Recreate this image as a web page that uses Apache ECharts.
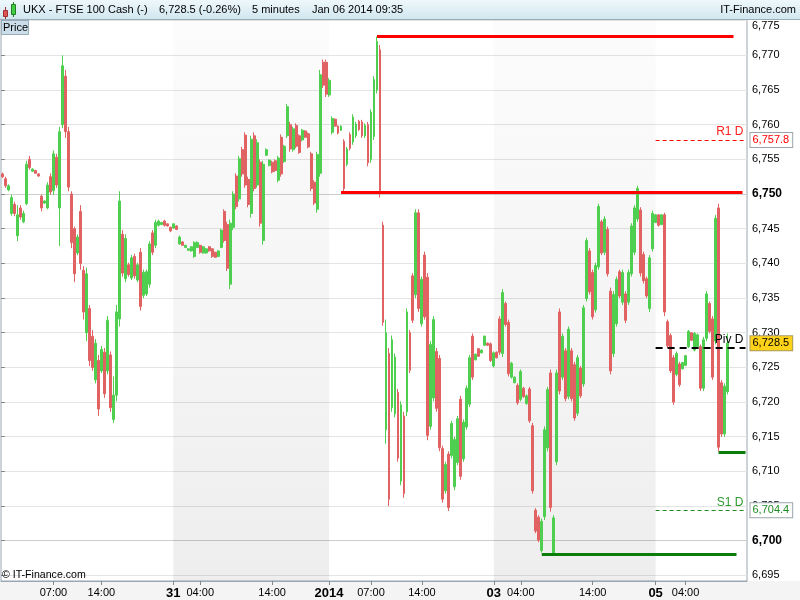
<!DOCTYPE html>
<html><head><meta charset="utf-8">
<script src="https://cdn.jsdelivr.net/npm/echarts@6/dist/echarts.min.js"></script>
<style>html,body{margin:0;padding:0;background:#fff}#c{width:800px;height:600px}</style>
</head><body><div id="c"></div>
<script>
// each bar: [open, close, low, high]
const dec30 = [
[6752.9,6752.5,6752.3,6753.1],[6752.2,6751.2,6750.9,6752.5],[6750.6,6751.2,6750.4,6751.4],[6747.2,6749.5,6746.9,6749.9],
[6748.5,6747.2,6746.8,6748.9],[6744.0,6747.0,6743.2,6748.4],[6748.0,6746.7,6746.3,6748.4],[6746.0,6747.2,6745.8,6747.6],
[6748.6,6754.3,6748.4,6754.8],[6755.0,6753.8,6753.5,6755.5],[6753.3,6753.6,6753.2,6753.7],[6753.4,6753.0,6752.9,6753.5],
[6752.9,6752.6,6752.5,6753.0],[6749.7,6748.0,6747.5,6749.9],[6748.7,6749.0,6748.6,6749.1],[6748.0,6751.3,6747.8,6751.7],
[6752.5,6750.3,6749.9,6753.0],[6750.5,6755.8,6749.9,6756.3],[6755.3,6751.3,6750.9,6755.8],[6748.0,6759.0,6742.5,6759.7],
[6760.0,6768.5,6759.5,6770.0],[6767.0,6759.0,6758.1,6767.9],[6759.0,6751.0,6750.4,6759.7],[6750.0,6743.0,6742.2,6750.4],
[6745.0,6738.5,6737.3,6745.3],[6741.5,6743.8,6741.2,6744.2],[6747.5,6740.0,6739.1,6748.4],[6739.0,6733.0,6731.9,6739.6],
[6730.0,6738.5,6728.8,6739.4],[6733.5,6726.0,6725.2,6734.0],[6729.5,6725.0,6724.5,6730.4],[6723.2,6728.5,6722.7,6729.1],
[6726.0,6719.0,6718.0,6726.8],[6724.5,6727.6,6724.2,6728.1],[6727.2,6721.2,6720.6,6727.8],[6724.5,6731.8,6724.0,6732.4],
[6726.8,6719.2,6718.6,6727.3],[6717.5,6721.0,6717.0,6723.7],[6721.0,6733.0,6720.1,6734.0],[6732.0,6749.0,6730.9,6750.4],
[6744.2,6738.6,6738.1,6744.8],[6737.8,6743.6,6737.3,6744.2],[6739.8,6738.4,6738.1,6740.1],[6737.9,6740.8,6737.6,6741.2],
[6741.0,6738.2,6737.8,6741.4],[6737.6,6739.8,6737.3,6740.1],[6741.6,6733.8,6733.2,6742.2],[6735.4,6738.7,6735.0,6739.1],
[6735.6,6738.8,6735.3,6739.1],[6737.0,6742.8,6736.5,6743.2],[6744.4,6741.6,6741.2,6744.8],[6742.6,6745.9,6742.2,6746.3],
[6745.5,6746.1,6745.3,6746.3],[6745.6,6745.9,6745.5,6746.0],[6746.1,6745.5,6745.3,6746.3],[6745.7,6745.4,6745.3,6745.8],
[6745.2,6744.7,6744.5,6745.3]
];
const dec31 = [
[6745.1,6745.7,6745.0,6745.8],[6745.4,6744.9,6744.8,6745.5],[6742.8,6743.8,6742.7,6744.0],[6743.1,6742.6,6742.5,6743.2],
[6742.3,6742.6,6742.2,6742.7],[6741.9,6742.1,6741.8,6742.2],[6741.8,6742.4,6741.7,6742.5],[6741.0,6743.0,6740.8,6743.2],
[6742.3,6743.0,6742.2,6743.2],[6742.6,6741.6,6741.4,6742.7],[6741.5,6742.4,6741.4,6742.5],[6741.5,6742.1,6741.4,6742.2],
[6742.4,6741.8,6741.7,6742.5],[6742.1,6741.0,6740.8,6742.2],[6741.6,6740.9,6740.8,6741.7],[6741.0,6741.8,6740.9,6741.9],
[6742.3,6744.8,6742.2,6745.0],[6747.5,6743.3,6743.0,6747.8],[6745.6,6739.3,6738.9,6746.0],[6737.0,6745.8,6736.3,6746.3],
[6745.2,6750.0,6744.8,6750.4],[6752.6,6748.2,6747.8,6753.0],[6749.3,6755.1,6748.9,6755.5],[6756.4,6752.9,6752.5,6756.8],
[6758.5,6751.3,6750.9,6758.9],[6752.1,6748.5,6748.1,6752.5],[6747.2,6757.9,6746.6,6758.4],[6758.4,6750.8,6750.4,6758.9],
[6751.3,6757.4,6750.9,6757.9],[6754.6,6745.8,6745.3,6755.0],[6743.3,6754.3,6742.7,6754.8],[6755.6,6756.4,6755.5,6756.6],
[6754.1,6754.9,6754.0,6755.0],[6754.6,6753.2,6753.0,6754.8],[6754.8,6753.4,6753.2,6755.0],[6752.0,6755.2,6751.7,6755.5],
[6758.2,6752.9,6752.5,6758.6],[6754.7,6756.9,6754.5,6757.1],[6758.4,6762.6,6758.1,6763.0],[6760.0,6756.5,6756.1,6760.4],
[6756.4,6759.4,6756.1,6759.7],[6759.9,6756.9,6756.6,6760.2],[6758.4,6756.0,6755.8,6758.6],[6757.8,6759.2,6757.6,6759.4],
[6759.1,6758.2,6758.1,6759.2],[6758.7,6756.8,6756.6,6758.9],[6755.8,6750.8,6750.4,6756.1],[6751.7,6748.7,6748.4,6752.0],
[6747.8,6755.7,6747.3,6756.1],[6753.0,6767.2,6752.5,6767.9],[6769.0,6765.7,6765.3,6769.4],[6769.0,6764.4,6764.0,6769.4],
[6764.3,6766.4,6764.0,6766.7]
];
const jan02 = [
[6758.9,6760.9,6758.6,6761.2],[6760.8,6759.8,6759.7,6760.9],[6759.8,6758.8,6758.6,6759.9],[6759.2,6759.8,6759.1,6759.9],
[6757.6,6750.8,6750.4,6757.9],[6754.3,6756.5,6754.0,6756.8],[6758.6,6756.6,6756.3,6758.9],[6757.5,6761.1,6757.1,6761.5],
[6758.4,6760.1,6758.1,6760.4],[6760.5,6759.3,6759.1,6760.7],[6760.4,6758.4,6758.1,6760.7],[6758.4,6759.9,6758.1,6760.2],
[6760.0,6754.5,6754.0,6760.4],[6755.0,6761.8,6754.5,6762.2],[6758.3,6766.5,6757.8,6767.0],[6765.0,6772.0,6764.5,6772.7],
[6770.8,6750.5,6749.5,6771.5],[6745.5,6731.5,6731.0,6746.0],[6716.0,6730.0,6714.0,6731.9],[6727.0,6706.0,6705.0,6727.8],
[6719.2,6729.0,6718.6,6729.6],[6718.3,6726.5,6717.8,6727.0],[6721.4,6711.9,6711.4,6721.9],[6708.6,6719.6,6708.0,6720.1],
[6718.0,6706.8,6706.2,6718.6],[6718.6,6733.0,6718.0,6733.5],[6730.0,6724.6,6724.2,6730.4],[6738.2,6731.8,6731.4,6738.6],
[6735.5,6747.3,6735.0,6747.8],[6747.3,6733.5,6733.0,6747.8],[6731.3,6737.7,6730.9,6738.1],[6741.2,6732.3,6731.9,6741.7],
[6738.0,6715.2,6714.5,6738.6],[6716.5,6728.3,6716.0,6728.8],[6720.6,6731.9,6720.1,6732.4],[6727.3,6719.1,6718.6,6727.8],
[6726.3,6713.4,6712.9,6726.8],[6713.3,6706.0,6705.5,6713.7],[6707.2,6711.0,6706.8,6711.4],[6712.5,6704.8,6704.3,6712.9],
[6712.3,6716.9,6711.9,6717.3],[6707.8,6714.6,6707.3,6715.0],[6711.3,6717.6,6710.9,6718.0],[6720.4,6709.3,6708.8,6720.9],
[6711.8,6717.1,6711.4,6717.5],[6716.4,6722.0,6716.0,6722.4],[6719.7,6726.4,6719.3,6726.8],[6729.5,6723.6,6723.2,6729.9],
[6726.1,6726.9,6726.0,6727.0],[6727.7,6726.6,6726.5,6727.8],[6727.1,6727.5,6727.0,6727.6],[6728.2,6729.5,6728.1,6729.6],
[6728.5,6728.2,6728.1,6728.6],[6728.4,6726.0,6725.8,6728.6]
];
const jan03 = [
[6725.2,6727.1,6725.0,6727.3],[6727.2,6726.4,6726.3,6727.3],[6732.0,6727.2,6726.8,6732.4],[6727.0,6735.8,6726.5,6736.3],
[6734.2,6731.2,6730.9,6734.5],[6731.5,6724.1,6723.7,6731.9],[6723.6,6725.6,6723.4,6725.8],[6722.8,6723.6,6722.7,6723.7],
[6722.4,6719.9,6719.6,6722.7],[6720.4,6724.4,6720.1,6724.7],[6722.0,6720.8,6720.6,6722.2],[6719.8,6720.9,6719.6,6721.1],
[6721.9,6717.3,6717.0,6722.2],[6716.6,6707.2,6706.8,6717.0],[6704.4,6701.4,6701.1,6704.7],[6703.4,6700.1,6699.8,6703.7],
[6698.6,6702.8,6698.3,6703.2],[6703.5,6716.0,6703.0,6716.5],[6713.4,6721.8,6712.9,6722.2],[6724.2,6704.8,6704.2,6724.7],
[6698.2,6703.3,6697.8,6703.7],[6711.4,6724.2,6710.9,6724.7],[6733.0,6721.6,6721.1,6733.5],[6723.6,6729.5,6723.2,6729.9],
[6727.4,6720.5,6720.1,6727.8],[6720.8,6730.5,6720.4,6730.9],[6727.4,6720.5,6720.1,6727.8],[6725.4,6717.7,6717.3,6725.8],
[6718.4,6726.4,6718.0,6726.8],[6724.9,6720.9,6720.6,6725.2],[6722.6,6733.6,6722.2,6734.0],[6734.9,6743.3,6734.5,6743.7],
[6741.8,6735.9,6735.5,6742.2],[6738.7,6732.3,6731.9,6739.1],[6733.3,6739.7,6732.9,6740.1],[6739.5,6748.2,6739.1,6748.6],
[6746.0,6741.5,6741.2,6746.3],[6741.6,6746.4,6741.2,6746.8],[6744.9,6738.5,6738.1,6745.3],[6736.0,6724.5,6724.0,6736.5],
[6727.0,6735.5,6726.5,6736.0],[6731.3,6737.7,6730.9,6738.1],[6738.8,6735.3,6735.0,6739.1],[6734.4,6738.7,6734.0,6739.1],
[6735.6,6731.8,6731.4,6736.0],[6734.4,6738.7,6734.0,6739.1],[6738.5,6745.4,6738.1,6745.8],[6741.6,6748.0,6741.2,6748.4],
[6746.4,6750.8,6746.0,6751.2],[6747.7,6738.6,6738.1,6748.1],[6741.3,6737.5,6737.1,6741.7],[6737.8,6735.3,6735.0,6738.1],
[6733.5,6740.8,6733.0,6741.2],[6742.1,6747.2,6741.7,6747.6]
];
const jan06 = [
[6745.9,6747.0,6745.8,6747.1],[6747.0,6745.5,6745.3,6747.1],[6745.6,6747.0,6745.5,6747.1],[6747.0,6733.0,6732.4,6747.3],
[6731.6,6728.1,6727.8,6731.9],[6729.6,6724.5,6724.2,6729.9],[6726.4,6720.0,6719.6,6726.8],[6724.0,6727.0,6723.7,6727.3],
[6725.5,6722.5,6722.2,6725.8],[6724.8,6725.7,6724.7,6725.8],[6725.3,6726.7,6725.2,6726.8],[6728.0,6730.2,6727.8,6730.4],
[6730.0,6728.9,6728.8,6730.1],[6727.5,6729.9,6727.3,6730.1],[6728.0,6729.7,6727.8,6729.9],[6728.0,6722.0,6721.6,6728.3],
[6722.0,6729.0,6721.6,6729.4],[6729.2,6735.6,6728.8,6736.0],[6734.2,6730.2,6729.9,6734.5],[6732.0,6723.6,6723.2,6732.4],
[6728.8,6746.5,6728.3,6747.0],[6748.0,6713.5,6712.9,6748.6],[6722.8,6715.4,6715.0,6723.2],[6715.4,6722.3,6715.0,6722.7],
[6721.5,6728.5,6721.1,6729.9]
];

// bottom axis tick labels (bar index -> label)
const tickIndex = [17, 33, 57, 66, 90, 109, 123, 140, 164, 173, 197, 218, 228];
const tickText  = ['07:00','14:00','31','04:00','14:00','2014','07:00','14:00','03','04:00','14:00','05','04:00'];
const dayTicks  = ['31','2014','03','05'];
const boldPrices = [6700, 6750];

// horizontal levels
const prevHigh = 6772.7, midLevel = 6750.2, lowLevel = 6698.0, dayLow = 6712.7;
const r1 = 6757.8, pivot = 6727.8, s1 = 6704.4, lastPrice = 6728.5;

const headerLeft = ['UKX - FTSE 100 Cash (-)', '6,728.5 (-0.26%)', '5 minutes', 'Jan 06 2014 09:35'];
const headerRight = 'IT-Finance.com';

const slotCount = 249;
const bars = dec30.concat(dec31, jan02, jan03, jan06);
const seriesData = bars.concat(Array(slotCount - bars.length).fill('-'));
const categories = Array.from({length: slotCount}, (_, i) => 'bar' + i);

function fmt(v, d) {
  return v.toFixed(d).replace(/^(\d)(\d{3})/, '$1,$2');
}

const chart = echarts.init(document.getElementById('c'), null, {renderer: 'canvas'});
const FONT = 'Arial, "Liberation Sans", sans-serif';
const G = echarts.graphic;

function hline(a, b, y, style, label) {
  return [
    {xAxis: a, yAxis: y, lineStyle: style, label: label || {show: false}},
    {xAxis: b, yAxis: y}
  ];
}
const clear = {color: 'rgba(0,0,0,0)', width: 1};
function box(y, text, color, bg, border) {
  return hline(247, 248, y, clear, {
    show: true, position: 'end', distance: 5, formatter: text,
    color: color, backgroundColor: bg, borderColor: border, borderWidth: 1,
    padding: [2, 3, 1, 2], fontSize: 11, fontFamily: FONT
  });
}
function tag(text, color) {
  return {show: true, position: 'insideEndTop', distance: 2, formatter: text,
          color: color, fontSize: 12, fontFamily: FONT};
}

const option = {
  animation: false,
  backgroundColor: '#ffffff',
  grid: [
    {left: 1, right: 53, top: 20, bottom: 19, show: true, borderColor: '#9aa7b0', borderWidth: 1, backgroundColor: 'transparent'},
    {left: 1, right: 53, top: 20.7, bottom: 24.6}
  ],
  xAxis: [
    {
      type: 'category', gridIndex: 0, data: categories, boundaryGap: true,
      axisLine: {show: true, lineStyle: {color: '#9aa7b0'}},
      axisTick: {show: true, length: 4, alignWithLabel: true, lineStyle: {color: '#808890'},
                 interval: (i) => tickIndex.includes(i)},
      axisLabel: {
        interval: (i) => tickIndex.includes(i), margin: 6, color: '#000', fontSize: 11, fontFamily: FONT,
        formatter: (v, i) => {
          const k = tickIndex.indexOf(i);
          if (k < 0) return '';
          const t = tickText[k];
          return dayTicks.includes(t) ? '{d|' + t + '}' : t;
        },
        rich: {d: {fontWeight: 'bold', fontSize: 13, fontFamily: FONT, color: '#000'}}
      },
      splitLine: {show: false}
    },
    {type: 'value', gridIndex: 1, min: 0, max: 1, show: false}
  ],
  yAxis: [
    {type: 'value', gridIndex: 0, min: 6694.2, max: 6775.1, show: false, splitLine: {show: false}},
    {
      type: 'value', gridIndex: 1, position: 'right', min: 6695, max: 6775, interval: 5,
      axisLine: {show: false},
      axisTick: {show: true, length: 4, lineStyle: {color: '#808890'}},
      axisLabel: {
        showMinLabel: true, showMaxLabel: true, margin: 5, color: '#000', fontSize: 11, fontFamily: FONT,
        formatter: (v) => {
          const s = fmt(v, 0);
          if (v === 6775) return '{t|' + s + '}';
          return boldPrices.includes(v) ? '{b|' + s + '}' : s;
        },
        rich: {
          b: {fontWeight: 'bold', fontSize: 12, fontFamily: FONT, color: '#000'},
          t: {padding: [11, 0, 0, 0], fontSize: 11, fontFamily: FONT, color: '#000'}
        }
      },
      splitLine: {show: true, lineStyle: {width: 1,
        color: Array.from({length: 17}, (_, i) => boldPrices.includes(6695 + 5 * i) ? '#cdcdcd' : '#e4e4e4')}}
    }
  ],
  series: [{
    type: 'candlestick',
    xAxisIndex: 0, yAxisIndex: 0,
    data: seriesData,
    barWidth: 2.4,
    silent: true,
    itemStyle: {color: '#4fcf4f', color0: '#e06262', borderColor: '#4fcf4f', borderColor0: '#e06262', borderWidth: 1},
    markArea: {
      silent: true,
      itemStyle: {color: new G.LinearGradient(0, 0, 0, 1, [
        {offset: 0, color: 'rgba(0,0,0,0.012)'}, {offset: 1, color: 'rgba(0,0,0,0.065)'}])},
      data: [[{xAxis: 57}, {xAxis: 109}], [{xAxis: 164}, {xAxis: 218}]]
    },
    markLine: {
      silent: true, symbol: ['none', 'none'],
      data: [
        hline(125, 244, prevHigh, {color: '#ff0000', width: 3, type: 'solid'}),
        hline(113, 247, midLevel, {color: '#ff0000', width: 3, type: 'solid'}),
        hline(180, 245, lowLevel, {color: '#0b7d0b', width: 3, type: 'solid'}),
        hline(239, 248, dayLow, {color: '#0b7d0b', width: 3, type: 'solid'}),
        hline(218, 248, r1, {color: '#ff0000', width: 1, type: [4, 3]}, tag('R1 D', '#ff2020')),
        hline(218, 248, pivot, {color: '#000000', width: 2, type: [7, 5]}, tag('Piv D', '#000000')),
        hline(218, 248, s1, {color: '#1f8a1f', width: 1, type: [4, 3]}, tag('S1 D', '#2e9a2e')),
        box(r1, fmt(r1, 1), '#ff0000', '#ffffff', '#9aa4aa'),
        box(lastPrice, fmt(lastPrice, 1), '#000000', '#ffd21a', '#a89a60'),
        box(s1, fmt(s1, 1), '#1f8a1f', '#ffffff', '#9aa4aa')
      ]
    }
  }],
  graphic: [
    {type: 'rect', z: -1, silent: true, shape: {x: 0, y: 581, width: 800, height: 19}, style: {fill: '#f4f4f4'}},
    {type: 'rect', z: 100, silent: true, shape: {x: 0, y: 0, width: 800, height: 19},
      style: {fill: new G.LinearGradient(0, 0, 0, 1, [{offset: 0, color: '#eef8fc'}, {offset: 1, color: '#d2e7f0'}])}},
    {type: 'line', z: 101, silent: true, shape: {x1: 0, y1: 19.5, x2: 800, y2: 19.5}, style: {stroke: '#9aabb5', lineWidth: 1}},
    {type: 'line', z: 101, silent: true, shape: {x1: 5.5, y1: 7, x2: 5.5, y2: 19}, style: {stroke: '#a03030', lineWidth: 1}},
    {type: 'rect', z: 102, silent: true, shape: {x: 3.5, y: 10.5, width: 4, height: 6}, style: {fill: '#e05555', stroke: '#a03030', lineWidth: 1}},
    {type: 'line', z: 101, silent: true, shape: {x1: 13.5, y1: 2, x2: 13.5, y2: 17}, style: {stroke: '#208020', lineWidth: 1}},
    {type: 'rect', z: 102, silent: true, shape: {x: 11.5, y: 4.5, width: 4, height: 10}, style: {fill: '#44cc44', stroke: '#208020', lineWidth: 1}},
    {type: 'text', z: 103, silent: true, style: {text: headerLeft[0], x: 23, y: 10, font: '11px ' + FONT, fill: '#000', align: 'left', verticalAlign: 'middle'}},
    {type: 'text', z: 103, silent: true, style: {text: headerLeft[1], x: 159, y: 10, font: '11px ' + FONT, fill: '#000', align: 'left', verticalAlign: 'middle'}},
    {type: 'text', z: 103, silent: true, style: {text: headerLeft[2], x: 252, y: 10, font: '11px ' + FONT, fill: '#000', align: 'left', verticalAlign: 'middle'}},
    {type: 'text', z: 103, silent: true, style: {text: headerLeft[3], x: 312, y: 10, font: '11px ' + FONT, fill: '#000', align: 'left', verticalAlign: 'middle'}},
    {type: 'text', z: 103, silent: true, style: {text: headerRight, x: 796, y: 10, font: '11px ' + FONT, fill: '#000', align: 'right', verticalAlign: 'middle'}},
    {type: 'rect', z: 103, silent: true, shape: {x: 1.5, y: 20.5, width: 27, height: 14}, style: {fill: '#cadde8', stroke: '#98adb9', lineWidth: 1}},
    {type: 'text', z: 104, silent: true, style: {text: 'Price', x: 3, y: 28, font: '11px ' + FONT, fill: '#000', align: 'left', verticalAlign: 'middle'}},
    {type: 'text', z: 104, silent: true, style: {text: '\u00a9 IT-Finance.com', x: 2, y: 575, font: '10.6px ' + FONT, fill: '#000', align: 'left', verticalAlign: 'middle'}}
  ]
};
chart.setOption(option);
</script>
</body></html>
